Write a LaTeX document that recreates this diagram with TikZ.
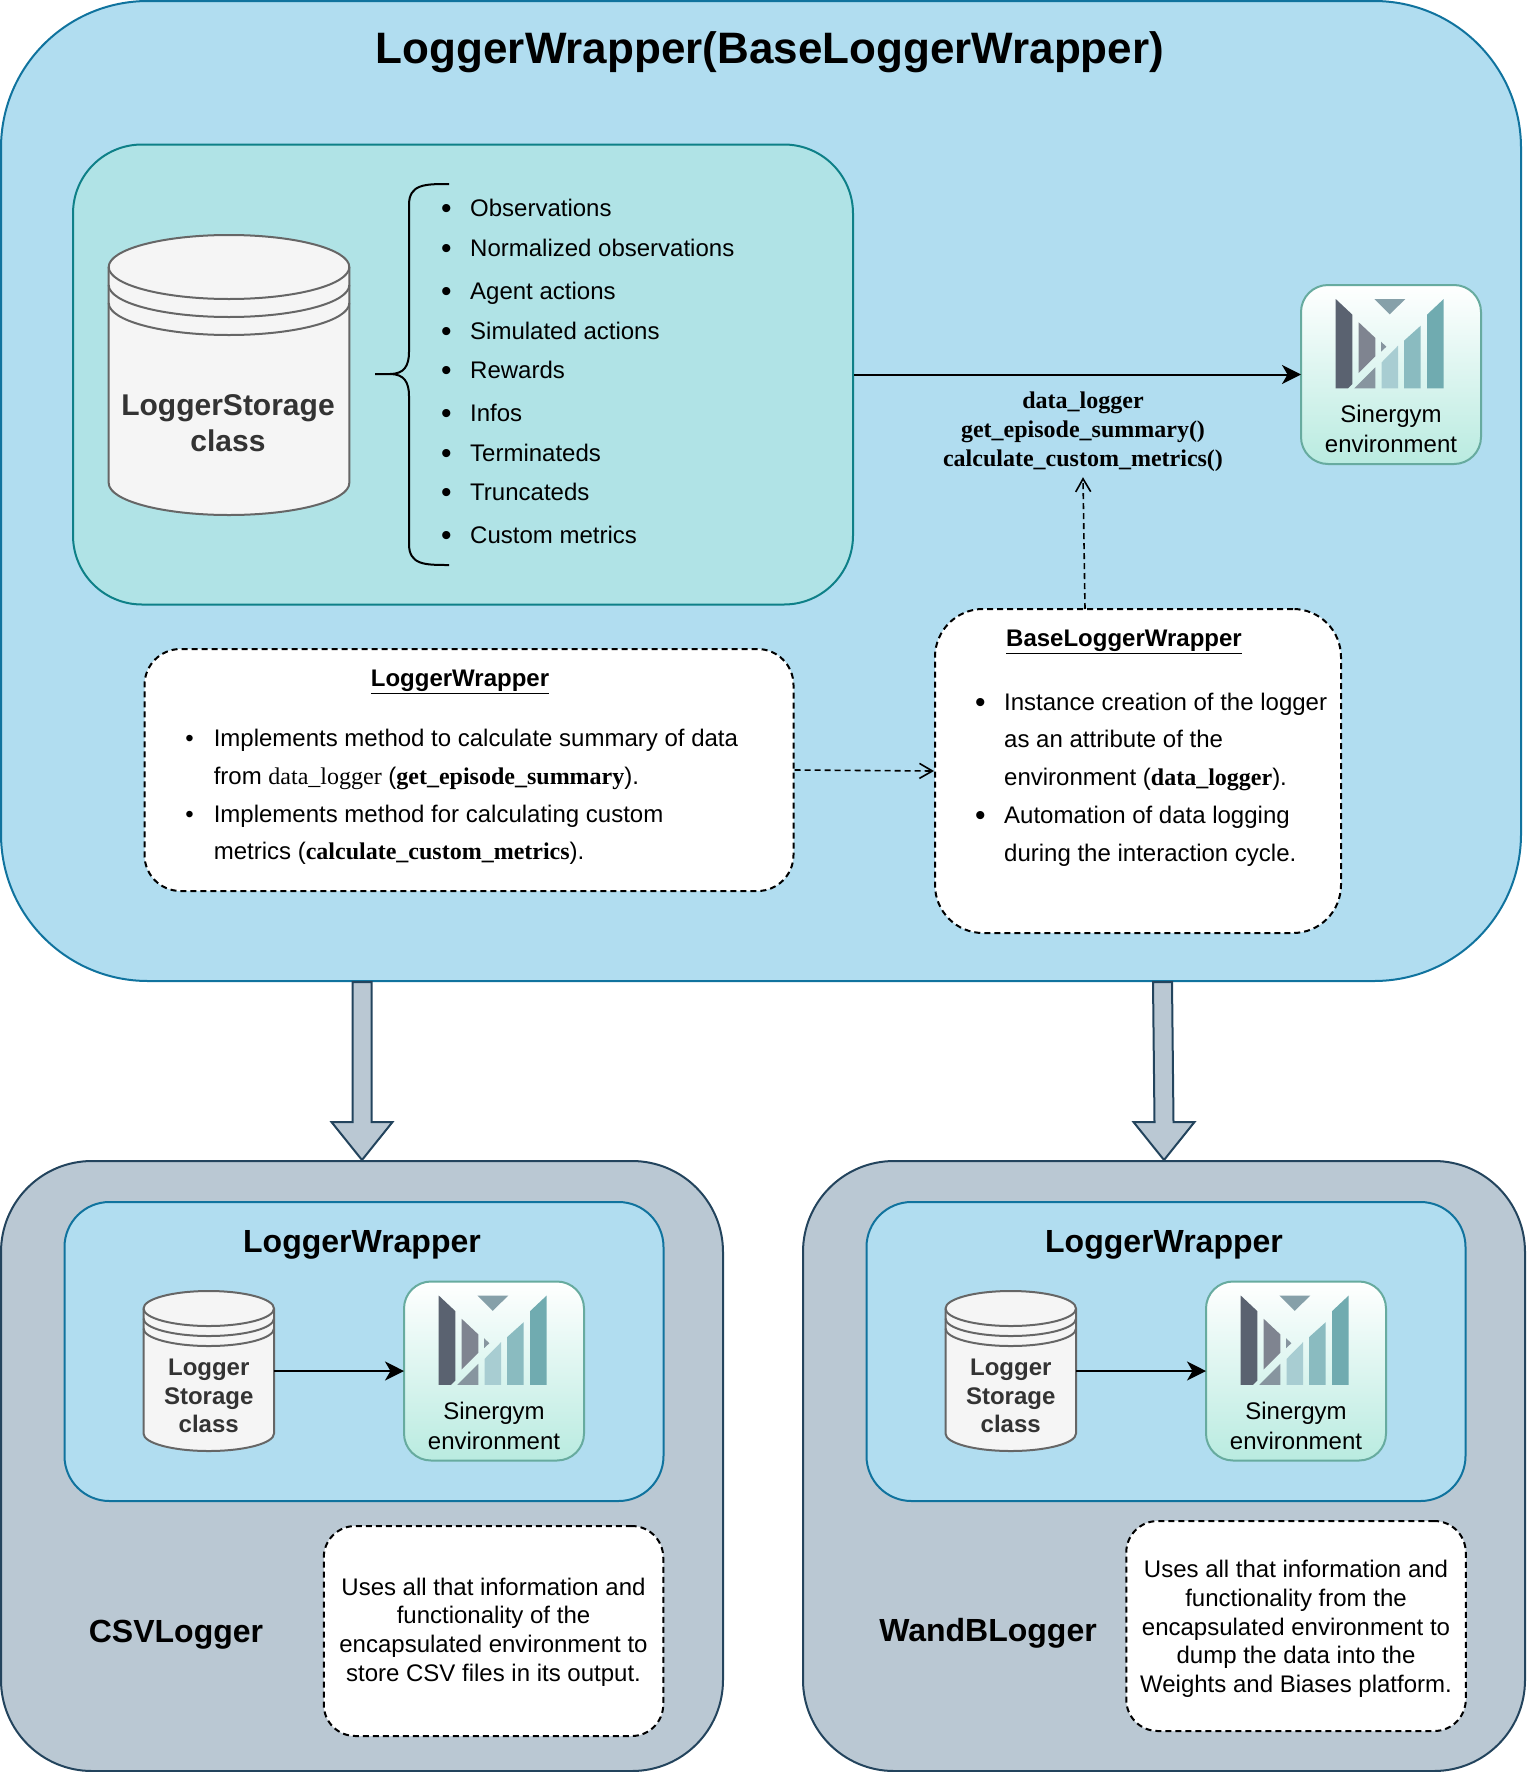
\documentclass[tikz,border=0pt]{standalone}
\usepackage{fontspec}
\setmainfont{Liberation Sans}
\newfontfamily\timesfont{Liberation Serif}
\usetikzlibrary{arrows.meta,positioning,calc}
\definecolor{wrapfill}{HTML}{B1DDF0}
\definecolor{wrapline}{HTML}{10739E}
\definecolor{tealfill}{HTML}{B0E3E6}
\definecolor{tealline}{HTML}{0E8088}
\definecolor{greyfill}{HTML}{BAC8D3}
\definecolor{greyline}{HTML}{23445D}
\definecolor{storefill}{HTML}{F5F5F5}
\definecolor{storeline}{HTML}{666666}
\definecolor{storetext}{HTML}{333333}
\definecolor{envfill}{HTML}{B9EBE0}
\definecolor{envline}{HTML}{67AB9F}
\definecolor{logoA}{HTML}{5A6270}
\definecolor{logoB}{HTML}{7F8490}
\definecolor{logoC}{HTML}{87959F}
\definecolor{logoD}{HTML}{A8CDD2}
\definecolor{logoE}{HTML}{8ABBC0}
\definecolor{logoF}{HTML}{70ABB0}
\definecolor{logoG}{HTML}{86A0A9}
\tikzset{
  wrapbox/.style={draw=wrapline,fill=wrapfill,line width=2pt,inner sep=0pt},
  tealbox/.style={draw=tealline,fill=tealfill,line width=2pt,inner sep=0pt},
  greybox/.style={draw=greyline,fill=greyfill,line width=2pt,inner sep=0pt},
  notebox/.style={draw=black,fill=white,line width=2pt,dash pattern=on 6pt off 4pt,inner sep=0pt},
  dashline/.style={line width=1.6pt,dash pattern=on 6pt off 4pt},
  plainline/.style={line width=2pt},
  notetext/.style={font=\fontsize{24}{28.7}\selectfont,align=center,inner sep=0pt},
  listtext/.style={font=\fontsize{24}{37.8}\selectfont,align=left,inner sep=0pt},
  boldtext/.style={font=\fontsize{#1}{#1}\selectfont\bfseries,inner sep=0pt},
  envbox/.style={draw=envline,top color=white,bottom color=envfill,line width=2pt,inner sep=0pt,
    minimum width=180pt,minimum height=179pt,rounded corners=27pt,
    label={[font=\fontsize{24}{30}\selectfont,align=center,yshift=-54.5pt]center:Sinergym\\environment}},
  sinergym logo/.pic={
    \fill[fill=logoA] (0,0) -- (16.7,15.7) -- (16.7,85) -- (12.3,89.3) -- (0,89.3) -- cycle;
    \fill[fill=logoB] (23,23.3) -- (39.7,39) -- (39.7,57.3) -- (23,74) -- cycle;
    \fill[fill=logoC] (39.7,68.3) -- (39.7,89.3) -- (18.7,89.3) -- cycle;
    \fill[fill=logoC] (45.3,42.7) -- (50.7,47.7) -- (45.3,52.7) -- cycle;
    \fill[fill=logoD] (46,63.3) -- (62.3,46.7) -- (62.3,89.3) -- (46,89.3) -- cycle;
    \fill[fill=logoE] (68.3,41.7) -- (85,26.7) -- (85,89.3) -- (68.3,89.3) -- cycle;
    \fill[fill=logoF] (91.3,15.7) -- (108,0) -- (108,89.3) -- (91.3,89.3) -- cycle;
    \fill[fill=logoG] (38.7,0) -- (69.7,0) -- (54,15.3) -- cycle;
  }
}
% list bullets
\newcommand{\smallmark}{\llap{\textbullet\hspace{20pt}}}
\newcommand{\largemark}{\llap{\raisebox{-2pt}{\fontsize{30}{30}\selectfont\textbullet}\hspace{18.5pt}}}
% centre x, centre y, width, height, ellipse radius, ring gap
\newcommand{\storagecyl}[6]{
  \filldraw[draw=storeline,fill=storefill,line width=2pt] (#1-#3/2,#2-#4/2+#5)
    arc[start angle=180,end angle=0,x radius=#3pt/2,y radius=#5pt] -- (#1+#3/2,#2+#4/2-#5)
    arc[start angle=0,end angle=-180,x radius=#3pt/2,y radius=#5pt] -- cycle;
  \foreach \ring in {0,1,2}
    \draw[draw=storeline,line width=2pt] (#1-#3/2,#2-#4/2+#5+\ring*#6)
      arc[start angle=180,end angle=360,x radius=#3pt/2,y radius=#5pt];
}
% tail, tip
\newcommand{\blockarrow}[2]{
  \filldraw[draw=greyline,fill=greyfill,line width=2pt,line join=miter]
    ($(#1)+(-9.5,0)$) -- ($(#2)+(-9.5,-38)$) -- ($(#2)+(-30.5,-38)$) -- (#2)
    -- ($(#2)+(30.5,-38)$) -- ($(#2)+(9.5,-38)$) -- ($(#1)+(9.5,0)$) -- cycle;
}
\begin{document}
\begin{tikzpicture}[x=1pt,y=-1pt,>={Stealth[length=19pt,width=19pt,inset=5.5pt]}]
  \useasboundingbox (0,0) rectangle (1526,1772);
  % Main wrapper
  \node[wrapbox,minimum width=1520pt,minimum height=980pt,rounded corners=147pt] (wrapper) at (761,491) {};
  \node[boldtext=44] (title) at (770,52.5) {LoggerWrapper(BaseLoggerWrapper)};
  \node[tealbox,minimum width=780pt,minimum height=460pt,rounded corners=69pt] (teal) at (463,374.5) {};
  % Storage and its contents
  \storagecyl{229}{375}{240.6}{280}{32}{18}
  \node[minimum width=240.6pt,minimum height=280pt,inner sep=0pt,
    label={[align=center,text=storetext,font=\fontsize{30}{36}\selectfont\bfseries,yshift=-48pt,xshift=-1pt]center:LoggerStorage\\class}] (store) at (229,375) {};
  \draw[plainline] (449,184) .. controls (425,184) and (409,184) .. (409,205) -- (409,352)
    .. controls (409,366) and (404,374) .. (390,374) -- (375,374)
    (390,374) .. controls (404,374) and (409,382) .. (409,396) -- (409,544)
    .. controls (409,565) and (425,565) .. (449,565);
  \foreach \ybase/\itemtext in {216.5/Observations,256/Normalized observations,299/Agent actions,
      339/Simulated actions,378/Rewards,421/Infos,461/Terminateds,500/Truncateds,543/Custom metrics}
    \node[listtext,anchor=base west] (item\ybase) at (470,\ybase) {\largemark\itemtext};
  % Environment and methods
  \node[envbox] (env) at (1391,374.5) {};
  \pic at ($(env.north west)+(35.7,15)$) {sinergym logo};
  \draw[plainline,->,shorten >=-1pt] (teal.east) -- (env.west);
  \node[inner sep=0pt,align=center,minimum height=90pt,font=\fontsize{24}{29.2}\selectfont\timesfont\bfseries] (methods) at (1083,432)
    {data\_logger\\get\_episode\_summary()\\calculate\_custom\_metrics()};
  % Description notes
  \node[notebox,minimum width=649pt,minimum height=242pt,rounded corners=36pt] (lwnote) at (469,770) {};
  \node[boldtext=24] (lwtitle) at (460,681.5) {\underline{LoggerWrapper}};
  \node[listtext,anchor=west] (lwlist) at (213.6,797) {%
    \smallmark Implements method to calculate summary of data\\
    from {\timesfont data\_logger} ({\timesfont\bfseries get\_episode\_summary}).\\
    \smallmark Implements method for calculating custom\\
    metrics ({\timesfont\bfseries calculate\_custom\_metrics}).};
  \node[notebox,minimum width=406pt,minimum height=324pt,rounded corners=48pt] (basenote) at (1138,771) {};
  \node[boldtext=24] (basetitle) at (1124,642) {\underline{BaseLoggerWrapper}};
  \node[listtext,anchor=west] (baselist) at (1004,779.5) {%
    \largemark Instance creation of the logger\\
    as an attribute of the\\
    environment ({\timesfont\bfseries data\_logger}).\\
    \largemark Automation of data logging\\
    during the interaction cycle.};
  \coordinate (basetop) at (1085,609);
  \draw[dashline,->,>={Straight Barb[length=13pt,width=15pt]}] (basetop) -- (methods.south);
  \draw[dashline,->,>={Straight Barb[length=13pt,width=15pt]}] (lwnote.east) -- (basenote.west);
  % CSV logger
  \node[greybox,minimum width=722pt,minimum height=610pt,rounded corners=91pt] (csv) at (362,1466) {};
  \node[wrapbox,minimum width=599pt,minimum height=299pt,rounded corners=45pt] (csvwrap) at (364,1351.5) {};
  \node[boldtext=32] (csvwraptitle) at (362,1244.5) {LoggerWrapper};
  \storagecyl{208.75}{1371}{130.5}{160}{17.5}{10}
  \node[minimum width=130.5pt,minimum height=160pt,inner sep=0pt,
    label={[align=center,text=storetext,font=\fontsize{24}{28.8}\selectfont\bfseries,yshift=-25pt]center:Logger\\Storage\\class}] (csvstore) at (208.75,1371) {};
  \node[envbox] (csvenv) at (494,1371) {};
  \pic at ($(csvenv.north west)+(35.7,15)$) {sinergym logo};
  \draw[plainline,->,shorten >=-1pt] (csvstore.east) -- (csvenv.west);
  \node[boldtext=32] (csvname) at (176,1634.5) {CSVLogger};
  \node[notebox,minimum width=339.5pt,minimum height=210pt,rounded corners=31.5pt] (csvnote) at (493.5,1631) {};
  \node[notetext] (csvnotetext) at (493.5,1632) {Uses all that information and\\functionality of the\\encapsulated environment to\\store CSV files in its output.};
  % WandB logger
  \node[greybox,minimum width=722pt,minimum height=610pt,rounded corners=91pt] (wand) at (1164,1466) {};
  \node[wrapbox,minimum width=599pt,minimum height=299pt,rounded corners=45pt] (wandwrap) at (1166,1351.5) {};
  \node[boldtext=32] (wandwraptitle) at (1164,1244.5) {LoggerWrapper};
  \storagecyl{1010.75}{1371}{130.5}{160}{17.5}{10}
  \node[minimum width=130.5pt,minimum height=160pt,inner sep=0pt,
    label={[align=center,text=storetext,font=\fontsize{24}{28.8}\selectfont\bfseries,yshift=-25pt]center:Logger\\Storage\\class}] (wandstore) at (1010.75,1371) {};
  \node[envbox] (wandenv) at (1296,1371) {};
  \pic at ($(wandenv.north west)+(35.7,15)$) {sinergym logo};
  \draw[plainline,->,shorten >=-1pt] (wandstore.east) -- (wandenv.west);
  \node[boldtext=32] (wandname) at (988,1633.5) {WandBLogger};
  \node[notebox,minimum width=339.5pt,minimum height=210pt,rounded corners=31.5pt] (wandnote) at (1296,1626) {};
  \node[notetext] (wandnotetext) at (1296,1629) {Uses all that information and\\functionality from the\\encapsulated environment to\\dump the data into the\\Weights and Biases platform.};
  % Inheritance arrows
  \coordinate (csvtail) at (csv.north |- wrapper.south);
  \coordinate (wandtail) at ($(wand.north |- wrapper.south)+(-1.5,0)$);
  \blockarrow{csvtail}{csv.north}
  \blockarrow{wandtail}{wand.north}
\end{tikzpicture}
\end{document}
